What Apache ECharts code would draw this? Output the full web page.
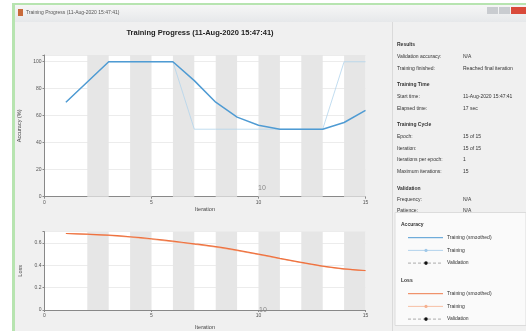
<!DOCTYPE html>
<html>
<head>
<meta charset="utf-8">
<script src="https://cdn.jsdelivr.net/npm/echarts@6/dist/echarts.min.js"></script>
<style>
html,body{margin:0;padding:0;background:#fff;}
#c{width:526px;height:331px;}
</style>
</head>
<body>
<div id="c"></div>
<script>
// ---- data ----
const iterations = [1,2,3,4,5,6,7,8,9,10,11,12,13,14,15];
const accSmoothed = [70,85,100,100,100,100,86,70,59,53,50,50,50,55,64];
const accTraining = [70,85,100,100,100,100,50,50,50,50,50,50,50,100,100];
const lossSmoothed = [0.684,0.678,0.670,0.655,0.637,0.615,0.592,0.567,0.535,0.500,0.462,0.426,0.392,0.367,0.353];
const lossTraining = [0.684,0.675,0.666,0.651,0.632,0.610,0.587,0.562,0.530,0.495,0.458,0.422,0.389,0.364,0.351];
const xTickLabels = ['0','5','10','15'];
const accTickLabels = ['0','20','40','60','80','100'];
const lossTickLabels = ['0','0.2','0.4','0.6'];
const epochBands = [[2,3],[4,5],[6,7],[8,9],[10,11],[12,13],[14,15]];
const panelRows = [
  ['Results', null, true],
  ['Validation accuracy:', 'N/A'],
  ['Training finished:', 'Reached final iteration'],
  ['Training Time', null, true],
  ['Start time:', '11-Aug-2020 15:47:41'],
  ['Elapsed time:', '17 sec'],
  ['Training Cycle', null, true],
  ['Epoch:', '15 of 15'],
  ['Iteration:', '15 of 15'],
  ['Iterations per epoch:', '1'],
  ['Maximum iterations:', '15'],
  ['Validation', null, true],
  ['Frequency:', 'N/A'],
  ['Patience:', 'N/A']
];
const panelY = [45,56.7,68.3,85,96.7,108.3,125,136.7,148.3,160,171.7,188.3,200,211];
const legendGroups = [
  {title:'Accuracy', color:'#4f9bd3', light:'#9fc8e8'},
  {title:'Loss', color:'#ee7b4a', light:'#f5b08f'}
];
const legendLabels = ['Training (smoothed)','Training','Validation'];

const FONT = 'Liberation Sans, Arial, sans-serif';
const chart = echarts.init(document.getElementById('c'), null, {renderer:'canvas'});

const pts = arr => iterations.map((it,i)=>[it, arr[i]]);

const graphics = [];
// window chrome
graphics.push({type:'rect', z:-10, shape:{x:12,y:3,width:514,height:328}, style:{fill:'#b7e4b0'}});
graphics.push({type:'rect', z:-9, shape:{x:15,y:5,width:511,height:17},
  style:{fill:new echarts.graphic.LinearGradient(0,0,0,1,[{offset:0,color:'#f6f6f6'},{offset:1,color:'#e6e8ea'}])}});
graphics.push({type:'rect', z:-9, shape:{x:15,y:22,width:511,height:309}, style:{fill:'#f0f0f0'}});
graphics.push({type:'rect', z:-8, shape:{x:18,y:9,width:5,height:7}, style:{fill:'#c86a3a'}});
graphics.push({type:'text', z:5, style:{x:26,y:13,text:'Training Progress (11-Aug-2020 15:47:41)', fontSize:5, fill:'#555', fontFamily:FONT, verticalAlign:'middle'}});
graphics.push({type:'rect', z:-8, shape:{x:487,y:7,width:11,height:7}, style:{fill:'#c9ccd0'}});
graphics.push({type:'rect', z:-8, shape:{x:499,y:7,width:11,height:7}, style:{fill:'#c9ccd0'}});
graphics.push({type:'rect', z:-8, shape:{x:511,y:7,width:15,height:7}, style:{fill:'#d94a3a'}});
// separator
graphics.push({type:'line', z:-7, shape:{x1:392.5,y1:22,x2:392.5,y2:331}, style:{stroke:'#dadada', lineWidth:1}});
// main title
graphics.push({type:'text', z:5, style:{x:200,y:33,text:'Training Progress (11-Aug-2020 15:47:41)', fontSize:7.5, fontWeight:'bold', fill:'#222', fontFamily:FONT, align:'center', verticalAlign:'middle'}});
// panel
panelRows.forEach((r,i)=>{
  graphics.push({type:'text', z:5, style:{x:397,y:panelY[i],text:r[0], fontSize:5, fontWeight:r[2]?'bold':'normal', fill:'#333', fontFamily:FONT, verticalAlign:'middle'}});
  if(r[1]) graphics.push({type:'text', z:5, style:{x:463,y:panelY[i],text:r[1], fontSize:5, fill:'#333', fontFamily:FONT, verticalAlign:'middle'}});
});
// legend box
graphics.push({type:'rect', z:6, shape:{x:395,y:212.5,width:131,height:113}, style:{fill:'#fafafa', stroke:'#dcdcdc', lineWidth:1}});
legendGroups.forEach((g,gi)=>{
  const y0 = gi===0 ? 225 : 281;
  graphics.push({type:'text', z:7, style:{x:401,y:y0,text:g.title,fontSize:5,fontWeight:'bold',fill:'#333',fontFamily:FONT,verticalAlign:'middle'}});
  legendLabels.forEach((lab,li)=>{
    const y = y0 + 12.7*(li+1);
    if(li===0){
      graphics.push({type:'line', z:7, shape:{x1:408,y1:y,x2:443,y2:y}, style:{stroke:g.color,lineWidth:1}});
    } else if(li===1){
      graphics.push({type:'line', z:7, shape:{x1:408,y1:y,x2:443,y2:y}, style:{stroke:g.light,lineWidth:0.8}});
      graphics.push({type:'circle', z:8, shape:{cx:426,cy:y,r:1.6}, style:{fill:g.light}});
    } else {
      graphics.push({type:'line', z:7, shape:{x1:408,y1:y,x2:443,y2:y}, style:{stroke:'#999',lineWidth:0.8,lineDash:[3,2]}});
      graphics.push({type:'circle', z:8, shape:{cx:426,cy:y,r:1.8}, style:{fill:'#111'}});
    }
    graphics.push({type:'text', z:7, style:{x:447,y:y,text:lab,fontSize:5,fill:'#333',fontFamily:FONT,verticalAlign:'middle'}});
  });
});
// stray "10" labels
graphics.push({type:'text', z:9, style:{x:262,y:188.5,text:'10',fontSize:7,fill:'#888',fontFamily:FONT,align:'center',verticalAlign:'middle'}});
graphics.push({type:'text', z:9, style:{x:263,y:310,text:'10',fontSize:7,fill:'#888',fontFamily:FONT,align:'center',verticalAlign:'middle'}});

const axisLabelStyle = {fontSize:5, color:'#555', fontFamily:FONT, margin:3};
function xAxis(gi, name, gap){
  return {type:'value', gridIndex:gi, min:0, max:15, interval:5,
    axisLine:{lineStyle:{color:'#888', width:1}}, axisTick:{length:2, lineStyle:{color:'#888'}},
    axisLabel:Object.assign({formatter:v=>xTickLabels[xTickLabels.indexOf(String(v))]||''}, axisLabelStyle),
    splitLine:{show:false},
    name:name, nameLocation:'middle', nameGap:gap, nameTextStyle:{fontSize:5.5, color:'#444', fontFamily:FONT}};
}
function yAxis(gi, max, interval, labels, name){
  return {type:'value', gridIndex:gi, min:0, max:max, interval:interval,
    axisLine:{show:true, lineStyle:{color:'#888', width:1}}, axisTick:{show:true, length:2, lineStyle:{color:'#888'}},
    axisLabel:Object.assign({formatter:v=>{const s=String(Math.round(v*10)/10); return labels.indexOf(s)>=0?s:'';}}, axisLabelStyle),
    splitLine:{show:true, lineStyle:{color:'#ececec', width:1}},
    name:name, nameLocation:'middle', nameGap:14, nameRotate:90, nameTextStyle:{fontSize:5.5, color:'#444', fontFamily:FONT}};
}

const bandData = epochBands.map(b=>[{xAxis:b[0]},{xAxis:b[1]}]);

const option = {
  animation:false,
  backgroundColor:'#ffffff',
  graphic:graphics,
  grid:[
    {left:44.5, top:55, width:321, height:141.7, show:true, backgroundColor:'#ffffff', borderWidth:0, containLabel:false},
    {left:44.5, top:231.7, width:321, height:85.6, show:true, backgroundColor:'#ffffff', borderWidth:0, containLabel:false}
  ],
  xAxis:[xAxis(0,'Iteration',10), xAxis(1,'Iteration',14)],
  yAxis:[yAxis(0,105,20,accTickLabels,'Accuracy (%)'), yAxis(1,0.7,0.2,lossTickLabels,'Loss')],
  series:[
    {type:'line', xAxisIndex:0, yAxisIndex:0, data:[], z:1, silent:true,
      markArea:{silent:true, itemStyle:{color:'#e6e6e6'}, data:bandData}},
    {type:'line', xAxisIndex:1, yAxisIndex:1, data:[], z:1, silent:true,
      markArea:{silent:true, itemStyle:{color:'#e6e6e6'}, data:bandData}},
    {name:'Training', type:'line', xAxisIndex:0, yAxisIndex:0, data:pts(accTraining), z:3,
      symbol:'none', lineStyle:{color:'#b3d4ec', width:0.8}},
    {name:'Training (smoothed)', type:'line', xAxisIndex:0, yAxisIndex:0, data:pts(accSmoothed), z:4,
      symbol:'none', lineStyle:{color:'#4f9bd3', width:1.5}},
    {name:'Loss Training', type:'line', xAxisIndex:1, yAxisIndex:1, data:pts(lossTraining), z:3,
      symbol:'none', lineStyle:{color:'#f5b08f', width:1}},
    {name:'Loss Training (smoothed)', type:'line', xAxisIndex:1, yAxisIndex:1, data:pts(lossSmoothed), z:4,
      smooth:0.3, symbol:'none', lineStyle:{color:'#ee7240', width:1.2}}
  ]
};
chart.setOption(option);
</script>
</body>
</html>
